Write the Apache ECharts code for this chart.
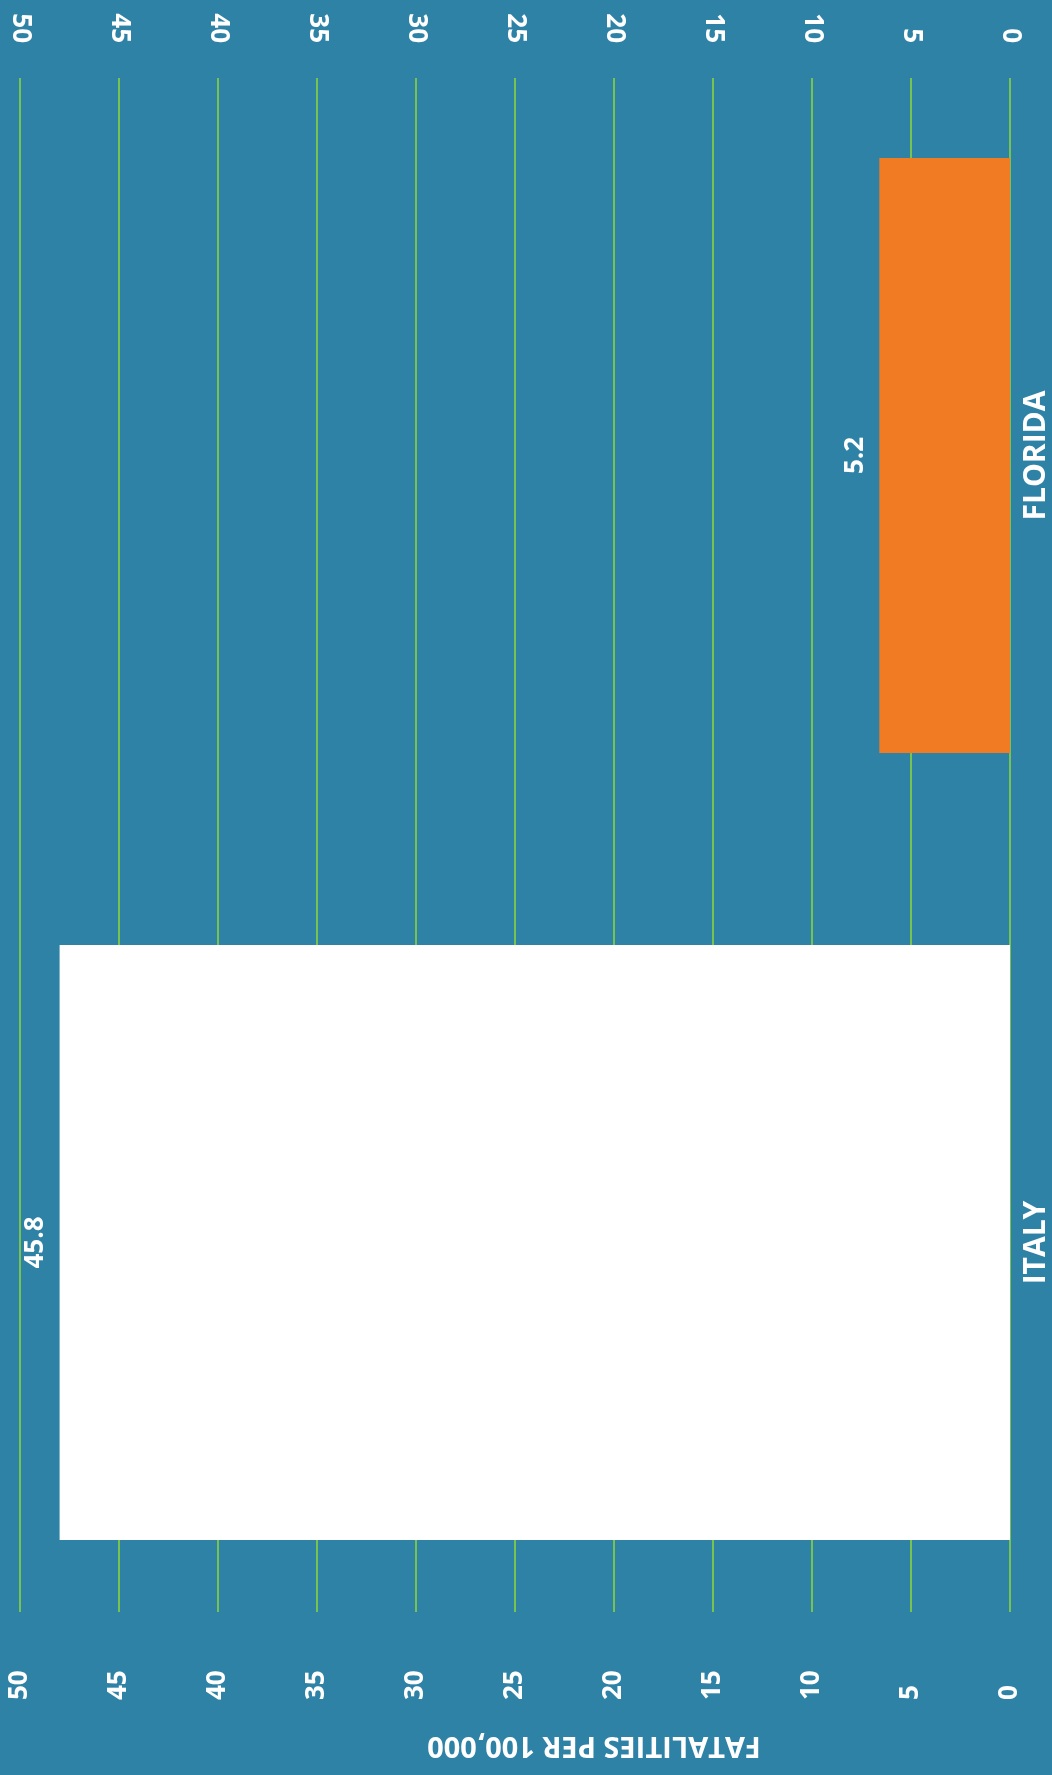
<!DOCTYPE html>
<html>
<head>
<meta charset="utf-8">
<script src="https://cdn.jsdelivr.net/npm/echarts@6/dist/echarts.min.js"></script>
<style>
html,body{margin:0;padding:0;background:#2e82a6;}
#chart{width:1052px;height:1775px;}
</style>
</head>
<body>
<div id="chart"></div>
<script>
// Data
var categories = ['ITALY', 'FLORIDA'];
var barLengths = [48.0, 6.6];          // bar lengths as drawn in the picture
var valueLabels = ['45.8', '5.2'];      // printed value labels
var barColors = ['#ffffff', '#f07b22'];
var axisMin = 0, axisMax = 50, axisStep = 5;
var axisTitle = 'FATALITIES PER 100,000';

var FONT = '"Open Sans", "DejaVu Sans", sans-serif';
var chart = echarts.init(document.getElementById('chart'), null, {renderer: 'canvas'});

var valueAxisBase = {
  type: 'value', min: axisMin, max: axisMax, interval: axisStep, inverse: true,
  axisLine: {show: false}, axisTick: {show: false}
};

var option = {
  backgroundColor: '#2e82a6',
  animation: false,
  grid: [
    {left: 20, right: 42, top: 78, bottom: 163},
    {left: 20, right: 42, top: 62, bottom: 139}
  ],
  xAxis: [
    Object.assign({}, valueAxisBase, {
      gridIndex: 0, position: 'bottom',
      splitLine: {show: true, lineStyle: {color: '#78c24f', width: 2}},
      axisLabel: {rotate: 90, align: 'left', margin: 88, color: '#ffffff',
        fontSize: 26, fontWeight: 'bold', fontFamily: FONT}
    }),
    Object.assign({}, valueAxisBase, {
      gridIndex: 0, position: 'top',
      splitLine: {show: false},
      axisLabel: {rotate: 90, margin: 35, color: '#ffffff',
        fontSize: 26, fontWeight: 'bold', fontFamily: FONT}
    }),
    Object.assign({}, valueAxisBase, {
      gridIndex: 1, show: false, splitLine: {show: false}
    })
  ],
  yAxis: [
    {type: 'category', gridIndex: 0, data: categories, show: false},
    {type: 'category', gridIndex: 1, data: categories, position: 'right',
      axisLine: {show: false}, axisTick: {show: false},
      axisLabel: {rotate: 90, align: 'center', verticalAlign: 'top', margin: 11,
        color: '#ffffff', fontSize: 30, fontWeight: 'bold', fontFamily: FONT}
    }
  ],
  series: [{
    type: 'bar',
    xAxisIndex: 2, yAxisIndex: 1,
    barWidth: 595,
    data: barLengths.map(function (v, i) {
      return {value: v, itemStyle: {color: barColors[i]}};
    }),
    label: {
      show: true, position: 'left', distance: 11, rotate: 90,
      align: 'center', verticalAlign: 'bottom',
      color: '#ffffff', fontSize: 26, fontWeight: 'bold', fontFamily: FONT,
      formatter: function (p) { return valueLabels[p.dataIndex]; }
    }
  }],
  graphic: [{
    type: 'text', x: 594, y: 1745, rotation: Math.PI,
    style: {text: axisTitle, fill: '#ffffff', font: 'bold 29px ' + FONT,
      textAlign: 'center', textVerticalAlign: 'middle'}
  }]
};
chart.setOption(option);
</script>
</body>
</html>
